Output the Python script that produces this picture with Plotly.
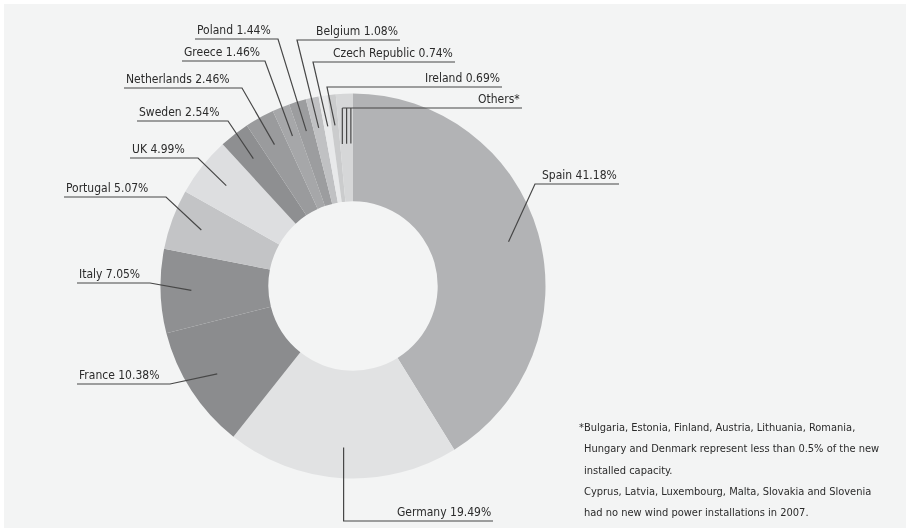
import math
import plotly.graph_objects as go

# New wind power capacity installed in 2007, share by country (%)
countries = ["Spain", "Germany", "France", "Italy", "Portugal", "UK", "Sweden",
             "Netherlands", "Greece", "Poland", "Belgium", "Czech Republic",
             "Ireland", "Others*"]
shares = [41.18, 19.49, 10.38, 7.05, 5.07, 4.99, 2.54, 2.46, 1.46, 1.44, 1.08,
          0.74, 0.69, 1.43]
slice_colors = ["#b2b3b5", "#e1e2e3", "#8b8c8e", "#8f9092", "#c3c4c6", "#dddee0",
                "#8e8f91", "#9a9b9d", "#a6a7a9", "#9c9d9f", "#c0c1c3", "#e8e9ea",
                "#cbcccd", "#d6d7d8"]
others_branches = 3

footnote_lines = [
    "*Bulgaria, Estonia, Finland, Austria, Lithuania, Romania,",
    "Hungary and Denmark represent less than 0.5% of the new",
    "installed capacity.",
    "Cyprus, Latvia, Luxembourg, Malta, Slovakia and Slovenia",
    "had no new wind power installations in 2007.",
]

# ---- layout (pixel space of a 906 x 528 canvas) ----
W, H = 906, 528
CX, CY, R = 353, 286, 192.5
HOLE = 0.44
LEADER_R = 0.84
OTHERS_R = 0.74
INK = "#2b2b2b"
LINE = "#474747"
FONT = "DejaVu Sans Condensed, Liberation Sans Narrow, Roboto, sans-serif"

# underline placement per label: x0..x1 at height uy; side says where the leader joins
label_pos = {
    "Spain":          dict(ux0=535, ux1=619, uy=184, side="right"),
    "Germany":        dict(ux0=None, ux1=493, uy=521, side="down"),
    "France":         dict(ux0=77, ux1=170, uy=384, side="left"),
    "Italy":          dict(ux0=77, ux1=150, uy=283, side="left"),
    "Portugal":       dict(ux0=64, ux1=166, uy=197, side="left"),
    "UK":             dict(ux0=130, ux1=198, uy=158, side="left"),
    "Sweden":         dict(ux0=137, ux1=228, uy=121, side="left"),
    "Netherlands":    dict(ux0=124, ux1=242, uy=88, side="left"),
    "Greece":         dict(ux0=182, ux1=265, uy=61, side="left"),
    "Poland":         dict(ux0=195, ux1=278, uy=39, side="left"),
    "Belgium":        dict(ux0=297, ux1=400, uy=40, side="right"),
    "Czech Republic": dict(ux0=313, ux1=455, uy=62, side="right"),
    "Ireland":        dict(ux0=327, ux1=502, uy=87, side="right"),
    "Others*":        dict(ux0=None, ux1=522, uy=108, side="others"),
}
footnote_x = [577, 582, 582, 582, 582]
footnote_y = [427, 448, 470, 491, 512]

# slice angles (degrees clockwise from 12 o'clock)
total = sum(shares)
starts, ends = [], []
acc = 0.0
for v in shares:
    starts.append(acc / total * 360.0)
    acc += v
    ends.append(acc / total * 360.0)


def polar(angle_deg, r):
    a = math.radians(angle_deg)
    return CX + r * math.sin(a), CY - r * math.cos(a)


def leader(xs, ys):
    path = "M " + " L ".join(f"{x:.2f},{y:.2f}" for x, y in zip(xs, ys))
    return dict(type="path", xref="x", yref="y", path=path, layer="above",
                line=dict(color=LINE, width=1.2))


fig = go.Figure()

fig.add_trace(go.Pie(
    values=shares, labels=countries, sort=False, direction="clockwise",
    rotation=0, hole=HOLE, textinfo="none", hoverinfo="label+percent",
    marker=dict(colors=slice_colors, line=dict(width=0)),
    domain=dict(x=[(CX - R) / W, (CX + R) / W],
                y=[1 - (CY + R) / H, 1 - (CY - R) / H]),
    showlegend=False,
))
# invisible trace keeps the pixel-space axes alive for the overlays
fig.add_trace(go.Scatter(x=[0, W], y=[0, H], mode="markers", opacity=0,
                         hoverinfo="skip", showlegend=False))

shapes = [dict(type="rect", xref="x", yref="y", x0=4, y0=4, x1=W, y1=H,
               fillcolor="#f3f4f4", line=dict(width=0), layer="below")]
annotations = []
for i, name in enumerate(countries):
    p = label_pos[name]
    mid = (starts[i] + ends[i]) / 2
    ix, iy = polar(mid, LEADER_R * R)
    uy = p["uy"]
    if p["side"] == "others":
        # one vertical branch per group of small markets inside the slice
        width = ends[i] - starts[i]
        xs_top = []
        for k in range(others_branches):
            ang = starts[i] + width * (k + 0.5) / others_branches
            bx, by = polar(ang, OTHERS_R * R)
            xs_top.append(bx)
            shapes.append(leader([bx, bx], [uy, by]))
        shapes.append(leader([min(xs_top), p["ux1"]], [uy, uy]))
        annotations.append(dict(x=p["ux1"], y=uy - 9, text=name, xanchor="right",
                                yanchor="middle", showarrow=False))
        continue
    if p["side"] == "left":
        xs = [ix, p["ux1"], p["ux0"]]
        tx, anchor = p["ux0"], "left"
    elif p["side"] == "right":
        xs = [ix, p["ux0"], p["ux1"]]
        tx, anchor = p["ux1"], "right"
    else:  # straight down, then along the underline
        xs = [ix, ix, p["ux1"]]
        tx, anchor = p["ux1"], "right"
    shapes.append(leader(xs, [iy, uy, uy]))
    annotations.append(dict(x=tx, y=uy - 9, text=f"{name} {shares[i]:.2f}%",
                            xanchor=anchor, yanchor="middle", showarrow=False))

for txt, fx, fy in zip(footnote_lines, footnote_x, footnote_y):
    annotations.append(dict(x=fx, y=fy, text=txt, xanchor="left", yanchor="middle",
                            showarrow=False, font=dict(size=11, color=INK, family=FONT)))

fig.update_layout(
    width=W, height=H, margin=dict(l=0, r=0, t=0, b=0),
    paper_bgcolor="#ffffff", plot_bgcolor="rgba(0,0,0,0)",
    font=dict(family=FONT, size=12, color=INK),
    xaxis=dict(range=[0, W], visible=False, fixedrange=True),
    yaxis=dict(range=[H, 0], visible=False, fixedrange=True),
    annotations=annotations,
    shapes=shapes,
)

fig.write_html("out.html")
